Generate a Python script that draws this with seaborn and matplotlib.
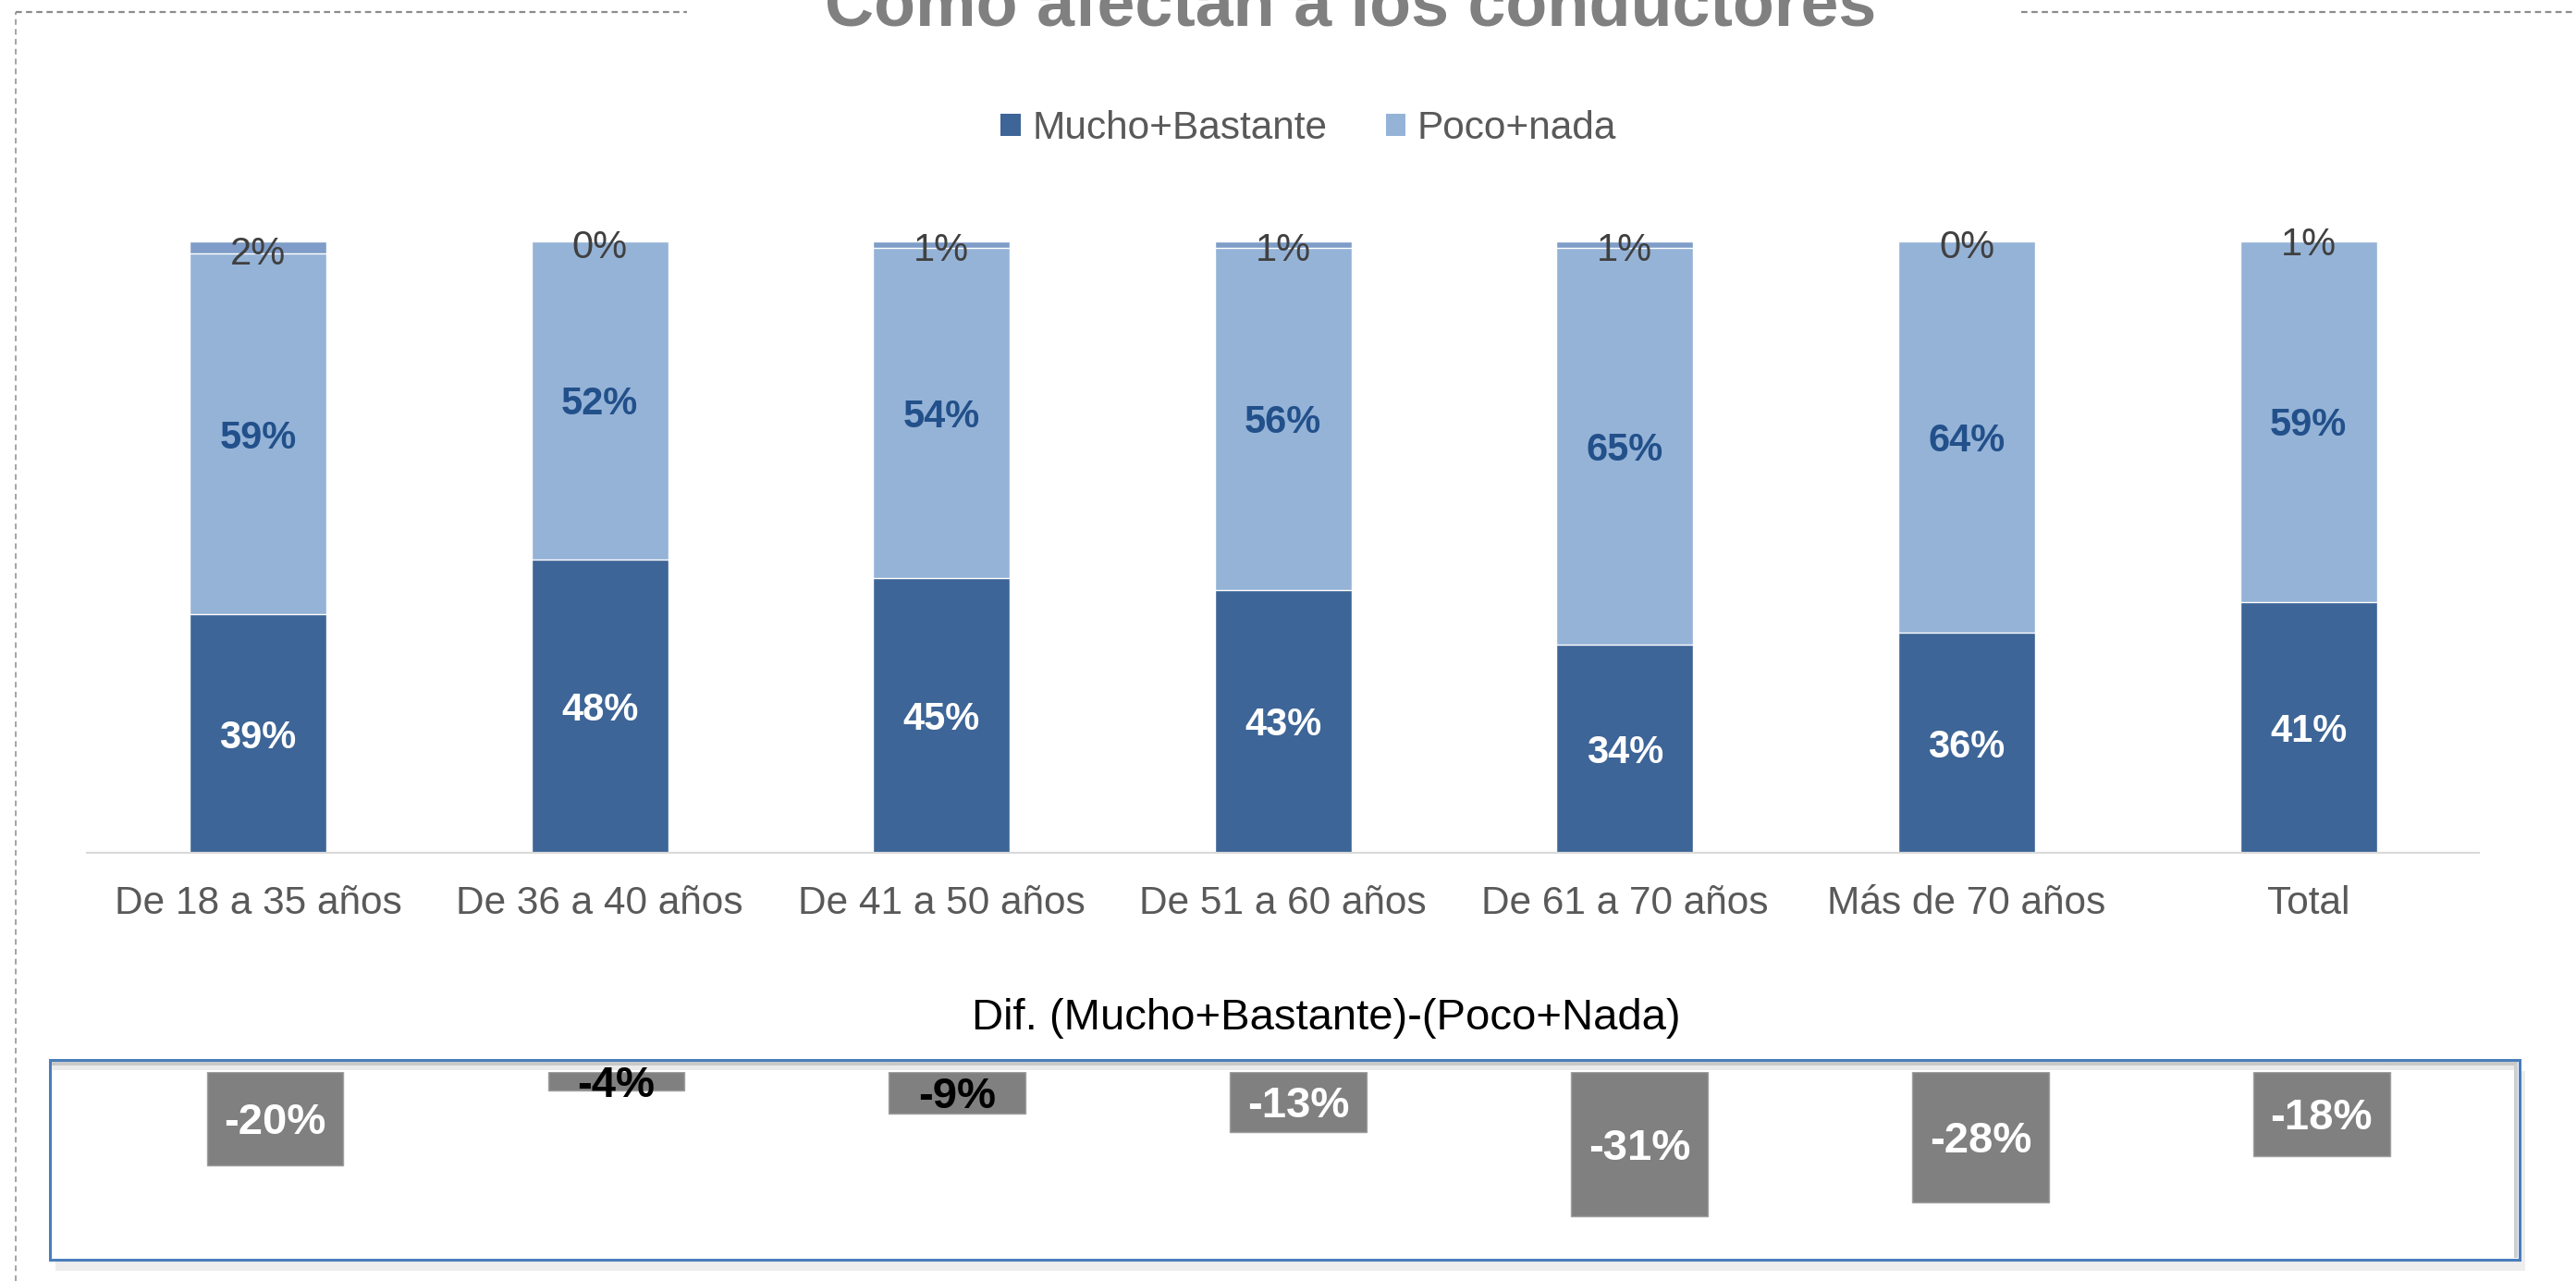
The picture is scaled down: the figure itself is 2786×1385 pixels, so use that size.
import matplotlib
matplotlib.use("Agg")
import matplotlib.pyplot as plt
from matplotlib.patches import Rectangle, Patch
from matplotlib.lines import Line2D
import seaborn as sns
import pandas as pd

categories = ["De 18 a 35 años", "De 36 a 40 años", "De 41 a 50 años",
              "De 51 a 60 años", "De 61 a 70 años", "Más de 70 años", "Total"]
mucho_bastante = [39, 48, 45, 43, 34, 36, 41]
poco_nada = [59, 52, 54, 56, 65, 64, 59]
ns_nc = [2, 0, 1, 1, 1, 0, 1]
diferencia = [-20, -4, -9, -13, -31, -28, -18]

title = "Cómo afectan a los conductores"
legend_labels = ["Mucho+Bastante", "Poco+nada"]
sub_title = "Dif. (Mucho+Bastante)-(Poco+Nada)"

sns.set_style("white")
plt.rcParams["font.family"] = ["Liberation Sans", "DejaVu Sans"]

C_DARK = "#3D6597"
C_LIGHT = "#95B3D7"
C_TOP = "#7F9DC8"
C_GRAY = "#808080"
C_TXT = "#595959"

W, H = 2786, 1385
fig = plt.figure(figsize=(W / 100, H / 100), dpi=100)
fig.patch.set_facecolor("white")

df = pd.DataFrame({"cat": categories, "m": mucho_bastante, "p": poco_nada, "n": ns_nc, "d": diferencia})
df["mp"] = df["m"] + df["p"]
df["tot"] = df["mp"] + df["n"]

# ---------- top stacked chart ----------
ax = fig.add_axes([94.2 / W, 1 - 922 / H, 2587.2 / W, 661 / H])
sns.barplot(data=df, x="cat", y="tot", color=C_TOP, width=0.4, saturation=1, ax=ax, order=categories)
sns.barplot(data=df, x="cat", y="mp", color=C_LIGHT, width=0.4, saturation=1, ax=ax, order=categories)
sns.barplot(data=df, x="cat", y="m", color=C_DARK, width=0.4, saturation=1, ax=ax, order=categories)
ax.set_ylim(0, 100)
ax.set_xlim(-0.5, len(categories) - 0.5)
ax.set_xlabel("")
ax.set_ylabel("")
ax.set_yticks([])
for s in ["top", "left", "right"]:
    ax.spines[s].set_visible(False)
ax.spines["bottom"].set_color("#D9D9D9")
ax.spines["bottom"].set_linewidth(1.5)
ax.tick_params(axis="x", length=0, pad=25, labelsize=30.5, labelcolor=C_TXT)

for i in range(len(categories)):
    m, p, n = mucho_bastante[i], poco_nada[i], ns_nc[i]
    ax.text(i, m / 2, f"{m}%", ha="center", va="center_baseline", fontsize=30,
            fontweight="bold", color="white")
    ax.text(i, m + p / 2, f"{p}%", ha="center", va="center_baseline", fontsize=30,
            fontweight="bold", color="#22508A")
    ax.text(i, m + p + n / 2 - 0.4, f"{n}%", ha="center", va="center_baseline", fontsize=30,
            color="#404040")

handles = [Patch(facecolor=C_DARK, edgecolor="none"), Patch(facecolor=C_LIGHT, edgecolor="none")]
fig.legend(handles, legend_labels, loc="center", bbox_to_anchor=(0.508, 1 - 139 / H),
           ncol=2, frameon=False, fontsize=30.5, handlelength=0.5, handleheight=0.5,
           handletextpad=0.3, columnspacing=1.5, labelcolor=C_TXT)

# ---------- title and decorative frame ----------
fig.text(0.5244, 1 - 28 / H, title, ha="center", va="baseline", fontsize=53,
         fontweight="bold", color="#808080")
fig.add_artist(Line2D([17 / W, 743 / W], [1 - 13 / H, 1 - 13 / H], color="#8C8C8C",
                      lw=1.6, linestyle=(0, (3, 2)), transform=fig.transFigure))
fig.add_artist(Line2D([2186 / W, 1.0], [1 - 13 / H, 1 - 13 / H], color="#8C8C8C",
                      lw=1.6, linestyle=(0, (3, 2)), transform=fig.transFigure))
fig.add_artist(Line2D([17 / W, 17 / W], [0, 1 - 13 / H], color="#8C8C8C",
                      lw=1.1, linestyle=(0, (4, 3)), transform=fig.transFigure))

# ---------- bottom difference box ----------
bx0, bx1, by0, by1 = 54, 2725, 1146, 1362
fig.add_artist(Rectangle(((bx0 + 6) / W, 1 - (by1 + 12) / H), (bx1 - bx0) / W, (by1 - by0) / H,
                         transform=fig.transFigure, facecolor="#EDEDED", edgecolor="none", zorder=0))
fig.add_artist(Rectangle((bx0 / W, 1 - by1 / H), (bx1 - bx0) / W, (by1 - by0) / H,
                         transform=fig.transFigure, facecolor="white", edgecolor="#4A7EBB",
                         lw=2.2, zorder=1))
fig.add_artist(Rectangle(((bx0 + 2) / W, 1 - 1152 / H), (bx1 - bx0 - 4) / W, 4 / H,
                         transform=fig.transFigure, facecolor="#C8C8C8", edgecolor="none", zorder=1.1))
fig.add_artist(Rectangle(((bx0 + 2) / W, 1 - 1157 / H), (bx1 - bx0 - 4) / W, 5 / H,
                         transform=fig.transFigure, facecolor="#EBEBEB", edgecolor="none", zorder=1.1))
fig.add_artist(Rectangle(((bx1 - 6) / W, 1 - (by1 - 2) / H), 4 / W, (by1 - by0 - 6) / H,
                         transform=fig.transFigure, facecolor="#CFCFCF", edgecolor="none", zorder=1.1))

fig.text(1434 / W, 1 - 1101 / H, sub_title, ha="center", va="center", fontsize=34, color="#000000")

ax2 = fig.add_axes([113 / W, 1 - 1360.9 / H, 2582.3 / W, 202.4 / H])
ax2.set_zorder(2)
ax2.patch.set_alpha(0)
sns.barplot(data=df, x="cat", y="d", color=C_GRAY, width=0.4, saturation=1, ax=ax2,
            order=categories, edgecolor="#A0A0A0", linewidth=1)
ax2.set_ylim(-40, 0)
ax2.set_xlim(-0.5, len(categories) - 0.5)
ax2.axis("off")
for i, d in enumerate(diferencia):
    col = "black" if d > -10 else "white"
    ax2.text(i, d / 2, f"{d}%", ha="center", va="center_baseline", fontsize=34,
             fontweight="bold", color=col)

fig.savefig("out.png", dpi=100, facecolor="white")
